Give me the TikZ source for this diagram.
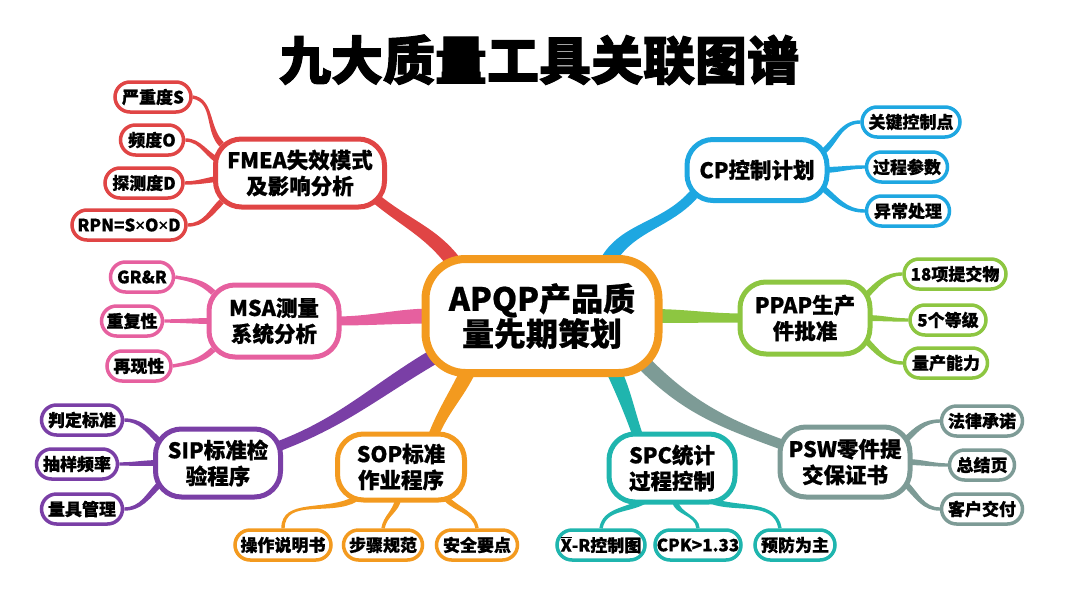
\documentclass[tikz,border=0pt]{standalone}
\usepackage{fontspec}
\usetikzlibrary{calc}
\setmainfont{Noto Sans CJK SC}[FakeBold=0.7]
\newfontfamily\titlefont{Noto Sans CJK SC}[FakeBold=2]
\newfontfamily\latinfont{Noto Sans}[FakeBold=0.7]
\newcommand\xbarr{\leavevmode\vbox{\hrule height 1pt\kern 1.3pt\hbox{X}}}
\newcommand\tms{{\latinfont\bfseries ×}}
\definecolor{fmeac}{HTML}{E04545}
\definecolor{cpc}{HTML}{1EA7E1}
\definecolor{msac}{HTML}{E6609F}
\definecolor{ppapc}{HTML}{8DC641}
\definecolor{sipc}{HTML}{7A3FA6}
\definecolor{sopc}{HTML}{F39A1F}
\definecolor{spcc}{HTML}{1FB5AE}
\definecolor{pswc}{HTML}{7D9B96}
\pgfdeclarelayer{bg}
\pgfsetlayers{bg,main}
% tapered connector: colour, start, out angle, end, in angle, half width at start, half width at end
\newcommand\taper[7]{%
  \coordinate (tpA) at (#2);
  \coordinate (tpB) at (#4);
  \fill[#1] ($(tpA)+(#3+90:#6pt)$) to[out=#3,in=#5] ($(tpB)+(#5-90:#7pt)$)
    -- ($(tpB)+(#5+90:#7pt)$) to[out=#5,in=#3] ($(tpA)+(#3-90:#6pt)$) -- cycle;
}
\tikzset{
  leaf/.style={draw=#1, line width=3.5pt, fill=white, rounded corners=15pt,
    minimum height=30pt, inner sep=0pt, font=\fontsize{17}{19}\selectfont\bfseries},
  branch/.style={draw=#1, line width=5pt, fill=white, rounded corners=26pt,
    inner sep=0pt, align=center, font=\fontsize{21.5}{26}\selectfont\bfseries},
  hub/.style={draw=#1, line width=8pt, fill=white, rounded corners=40pt,
    inner sep=0pt, align=center, font=\fontsize{32}{35}\selectfont\bfseries},
}
\begin{document}
\begin{tikzpicture}[x=1pt,y=-1pt]
\useasboundingbox (0,0) rectangle (1080,603);
\node[font=\titlefont\bfseries\fontsize{52}{58}\selectfont] (title) at (539,60) {九大质量工具关联图谱};

% hub
\node[hub=sopc, minimum width=233pt, minimum height=114pt] (apqp) at (542,316) {APQP产品质\\量先期策划};

% branches
\node[branch=fmeac, minimum width=169pt, minimum height=68pt] (fmea) at (300,173) {FMEA失效模式\\及影响分析};
\node[branch=cpc, minimum width=140pt, minimum height=61pt] (cp) at (757,170) {CP控制计划};
\node[branch=msac, minimum width=130pt, minimum height=72pt] (msa) at (274,321) {MSA测量\\系统分析};
\node[branch=ppapc, minimum width=130pt, minimum height=72pt] (ppap) at (805,318) {PPAP生产\\件批准};
\node[branch=sipc, minimum width=125pt, minimum height=68pt] (sip) at (218,463) {SIP标准检\\验程序};
\node[branch=sopc, minimum width=127pt, minimum height=66pt] (sop) at (401,467) {SOP标准\\作业程序};
\node[branch=spcc, minimum width=126pt, minimum height=68pt] (spc) at (672,468) {SPC统计\\过程控制};
\node[branch=pswc, minimum width=130pt, minimum height=70pt] (psw) at (845,462) {PSW零件提\\交保证书};

% leaves FMEA
\node[leaf=fmeac, minimum width=76pt] (f1) at (153,97) {严重度S};
\node[leaf=fmeac, minimum width=63pt] (f2) at (152,140) {频度O};
\node[leaf=fmeac, minimum width=78pt] (f3) at (144,183) {探测度D};
\node[leaf=fmeac, minimum width=114pt] (f4) at (129,225) {RPN=S\tms O\tms D};
% leaves CP
\node[leaf=cpc, minimum width=98pt] (c1) at (911,122) {关键控制点};
\node[leaf=cpc, minimum width=81pt] (c2) at (907,167) {过程参数};
\node[leaf=cpc, minimum width=83pt] (c3) at (908,211) {异常处理};
% leaves MSA
\node[leaf=msac, minimum width=63pt] (m1) at (142,277) {GR\&R};
\node[leaf=msac, minimum width=61pt] (m2) at (132,321) {重复性};
\node[leaf=msac, minimum width=64pt] (m3) at (139,366) {再现性};
% leaves PPAP
\node[leaf=ppapc, minimum width=102pt] (p1) at (955,274) {18项提交物};
\node[leaf=ppapc, minimum width=76pt] (p2) at (948,320) {5个等级};
\node[leaf=ppapc, minimum width=83pt] (p3) at (946,363) {量产能力};
% leaves SIP
\node[leaf=sipc, minimum width=81pt] (s1) at (82,420) {判定标准};
\node[leaf=sipc, minimum width=81pt] (s2) at (77,464) {抽样频率};
\node[leaf=sipc, minimum width=81pt] (s3) at (82,509) {量具管理};
% leaves SOP
\node[leaf=sopc, minimum width=96pt] (o1) at (283,545) {操作说明书};
\node[leaf=sopc, minimum width=79pt] (o2) at (383,545) {步骤规范};
\node[leaf=sopc, minimum width=81pt] (o3) at (477,545) {安全要点};
% leaves SPC
\node[leaf=spcc, minimum width=88pt] (x1) at (601,545) {\xbarr-R控制图};
\node[leaf=spcc, minimum width=86pt] (x2) at (698,545) {CPK>1.33};
\node[leaf=spcc, minimum width=80pt] (x3) at (795,545) {预防为主};
% leaves PSW
\node[leaf=pswc, minimum width=81pt] (w1) at (982,421) {法律承诺};
\node[leaf=pswc, minimum width=65pt] (w2) at (982,465) {总结页};
\node[leaf=pswc, minimum width=81pt] (w3) at (982,509) {客户交付};

\begin{pgfonlayer}{bg}
% trunks
\taper{fmeac}{$(apqp.center)!0.8!(apqp.150)$}{125}{$(fmea.center)!0.85!(fmea.-18)$}{-40}{7.5}{5}
\taper{cpc}{$(apqp.center)!0.8!(apqp.38)$}{65}{$(cp.center)!0.85!(cp.200)$}{230}{7.5}{5}
\taper{msac}{$(apqp.center)!0.9!(apqp.west)$}{180}{$(msa.center)!0.9!(msa.east)$}{0}{7.5}{4.5}
\taper{ppapc}{$(apqp.center)!0.9!(apqp.east)$}{0}{$(ppap.center)!0.9!(ppap.west)$}{180}{7}{4.5}
\taper{sipc}{$(apqp.center)!0.85!(apqp.200)$}{210}{$(sip.center)!0.85!(sip.15)$}{20}{7.5}{5}
\taper{sopc}{$(apqp.south)+(-72,-10)$}{-115}{$(sop.north)+(30,10)$}{70}{7.5}{5}
\taper{spcc}{$(apqp.south)+(70,-10)$}{-65}{$(spc.north)+(-32,10)$}{110}{7.5}{5}
\taper{pswc}{$(apqp.center)!0.85!(apqp.-25)$}{-45}{$(psw.center)!0.85!(psw.165)$}{160}{7.5}{5}
% FMEA links
\taper{fmeac}{f1.east}{-10}{$(fmea.center)!0.9!(fmea.160)$}{135}{1.7}{3}
\taper{fmeac}{f2.east}{0}{$(fmea.center)!0.9!(fmea.172)$}{160}{1.7}{3}
\taper{fmeac}{f3.east}{0}{$(fmea.center)!0.9!(fmea.184)$}{185}{1.7}{3}
\taper{fmeac}{f4.east}{0}{$(fmea.center)!0.9!(fmea.200)$}{225}{1.7}{3}
% CP links
\taper{cpc}{$(cp.center)!0.9!(cp.15)$}{40}{c1.west}{180}{3}{1.7}
\taper{cpc}{$(cp.center)!0.9!(cp.east)$}{0}{c2.west}{180}{3}{1.7}
\taper{cpc}{$(cp.center)!0.9!(cp.-15)$}{-40}{c3.west}{180}{3}{1.7}
% MSA links
\taper{msac}{m1.east}{-10}{$(msa.center)!0.9!(msa.155)$}{135}{1.7}{3}
\taper{msac}{m2.east}{0}{$(msa.center)!0.9!(msa.west)$}{180}{1.7}{3}
\taper{msac}{m3.east}{10}{$(msa.center)!0.9!(msa.205)$}{225}{1.7}{3}
% PPAP links
\taper{ppapc}{$(ppap.center)!0.9!(ppap.20)$}{45}{p1.west}{180}{3}{1.7}
\taper{ppapc}{$(ppap.center)!0.9!(ppap.east)$}{0}{p2.west}{180}{3}{1.7}
\taper{ppapc}{$(ppap.center)!0.9!(ppap.-20)$}{-45}{p3.west}{180}{3}{1.7}
% SIP links
\taper{sipc}{s1.east}{0}{$(sip.center)!0.9!(sip.160)$}{135}{1.7}{3}
\taper{sipc}{s2.east}{0}{$(sip.center)!0.9!(sip.west)$}{180}{1.7}{3}
\taper{sipc}{s3.east}{0}{$(sip.center)!0.9!(sip.200)$}{225}{1.7}{3}
% SOP links
\taper{sopc}{$(sop.center)!0.9!(sop.215)$}{210}{o1.north}{90}{3}{1.7}
\taper{sopc}{$(sop.center)!0.9!(sop.265)$}{-100}{o2.north}{80}{3}{1.7}
\taper{sopc}{$(sop.center)!0.9!(sop.-35)$}{-45}{o3.north}{100}{3}{1.7}
% SPC links
\taper{spcc}{$(spc.center)!0.9!(spc.230)$}{210}{x1.north}{80}{3}{1.7}
\taper{spcc}{$(spc.center)!0.9!(spc.275)$}{-80}{x2.north}{95}{3}{1.7}
\taper{spcc}{$(spc.center)!0.9!(spc.-40)$}{-20}{$(x3.north)+(-15,0)$}{100}{3}{1.7}
% PSW links
\taper{pswc}{$(psw.center)!0.9!(psw.20)$}{45}{w1.west}{180}{3}{1.7}
\taper{pswc}{$(psw.center)!0.9!(psw.east)$}{0}{w2.west}{180}{3}{1.7}
\taper{pswc}{$(psw.center)!0.9!(psw.-20)$}{-45}{w3.west}{180}{3}{1.7}
\end{pgfonlayer}
\end{tikzpicture}
\end{document}
